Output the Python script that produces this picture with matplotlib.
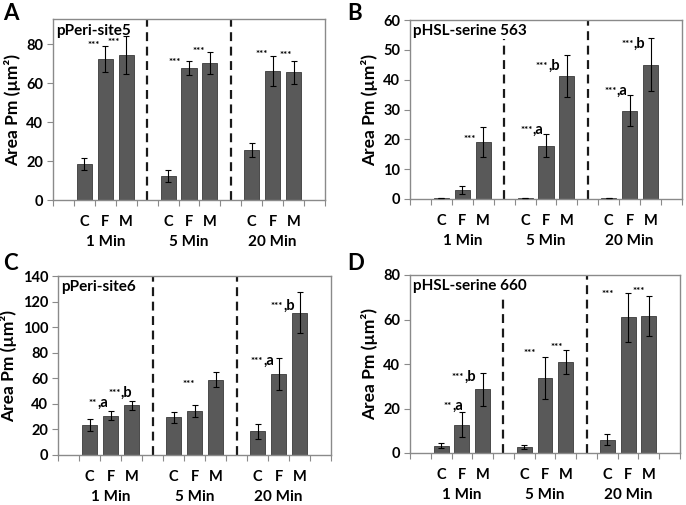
import matplotlib
matplotlib.use("Agg")
import matplotlib.pyplot as plt
import numpy as np

plt.rcParams['font.family'] = ['Lato', 'DejaVu Sans']
plt.rcParams['font.weight'] = 'bold'

categories = ['', 'C', 'F', 'M', '', 'C', 'F', 'M', '', 'C', 'F', 'M', '']
groups = ['1 Min', '5 Min', '20 Min']

A_title = 'pPeri-site5'
A_means = [18.5, 72.3, 74.4, 12.3, 67.7, 70.4, 25.6, 66.3, 65.6]
A_err = [3.0, 6.7, 9.8, 3.2, 3.6, 5.5, 3.5, 7.9, 5.8]
A_ticks = [0, 20, 40, 60, 80]

B_title = 'pHSL-serine 563'
B_means = [0.3, 3.0, 19.2, 0.3, 17.9, 41.2, 0.3, 29.6, 45.0]
B_err = [0, 1.3, 5.0, 0, 3.8, 7.0, 0, 5.2, 8.9]
B_ticks = [0, 10, 20, 30, 40, 50, 60]

C_title = 'pPeri-site6'
C_means = [23.3, 30.7, 38.8, 29.4, 34.3, 58.7, 18.6, 63.2, 111.2]
C_err = [4.5, 3.4, 3.4, 4.0, 4.6, 5.9, 5.7, 12.4, 16.0]
C_ticks = [0, 20, 40, 60, 80, 100, 120, 140]

D_title = 'pHSL-serine 660'
D_means = [3.3, 12.8, 28.6, 2.7, 33.8, 40.9, 6.0, 60.9, 61.4]
D_err = [1.2, 5.6, 7.3, 1.1, 9.4, 5.5, 2.5, 10.8, 9.0]
D_ticks = [0, 20, 40, 60, 80]

# annotations: (bar number, stars, letter, label y level)
A_ann = [(1, '***', '', 80), (2, '***', '', 82), (4, '***', '', 71.5),
         (5, '***', '', 77), (7, '***', '', 75.4), (8, '***', '', 75)]
B_ann = [(2, '***', '', 20.6), (4, '***', 'a', 23.4), (5, '***', 'b', 45),
         (7, '***', 'a', 36.7), (8, '***', 'b', 52.4)]
C_ann = [(1, '**', 'a', 41.7), (2, '***', 'b', 49.6), (5, '***', '', 56.1),
         (7, '***', 'a', 74.5), (8, '***', 'b', 117.7)]
D_ann = [(1, '**', 'a', 21.8), (2, '***', 'b', 34.6), (4, '***', '', 45.6),
         (5, '***', '', 48.1), (7, '***', '', 72.2), (8, '***', '', 73.4)]

W, H = 686, 505
fig = plt.figure(figsize=(W / 100, H / 100), dpi=100)


def px_axes(l, r, t, b):
    return fig.add_axes([l / W, 1 - b / H, (r - l) / W, (b - t) / H])


GRAY = '#8a8a8a'


def panel(ax, letter, title, means, err, ticks, ymax, ann, ann_dx, dash_top):
    x = np.arange(len(categories))
    bar_x = x[np.array([c != '' for c in categories])]
    ax.bar(bar_x, means, width=0.72, color='#595959', edgecolor='#3a3a3a',
           linewidth=0.6, zorder=2)
    ax.errorbar(bar_x, means, yerr=err, fmt='none', ecolor='black',
                elinewidth=0.8, capsize=2, capthick=0.8, zorder=3)
    ax.set_xlim(-0.5, len(categories) - 0.5)
    ax.set_ylim(0, ymax)
    ax.set_yticks(ticks)
    ax.set_yticklabels([str(t) for t in ticks], fontsize=10.5, fontweight='bold')
    ax.set_xticks(bar_x)
    ax.set_xticklabels([categories[i] for i in bar_x], fontsize=10.5,
                       fontweight='bold')
    ax.set_xticks(np.arange(len(categories) + 1) - 0.5, minor=True)
    ax.tick_params(axis='x', which='major', length=0, pad=11)
    ax.tick_params(axis='x', which='minor', length=4, color=GRAY, width=0.8)
    ax.tick_params(axis='y', length=4, color=GRAY, width=0.8, pad=3)
    for s in ax.spines.values():
        s.set_color(GRAY)
        s.set_linewidth(1.0)
    # group labels
    for gi, g in enumerate(groups):
        cx = bar_x[gi * 3 + 1]
        ax.annotate(g, xy=(cx, 0), xycoords=('data', 'axes fraction'),
                    xytext=(0, -25.5), textcoords='offset points',
                    ha='center', va='top', fontsize=11, fontweight='bold')
    # separators
    sep = [i for i, c in enumerate(categories) if c == '' and 0 < i < len(categories) - 1]
    for si, s in enumerate(sep):
        ax.vlines(s, 0, dash_top[si], colors='#1a1a1a', linestyles=(0, (4, 2.5)),
                  linewidth=1.6, zorder=1)
    ax.text(0.012, 0.975, title, transform=ax.transAxes, ha='left', va='top',
            fontsize=11, fontweight='bold')
    ax.set_ylabel('Area Pm (µm²)', fontsize=12.5, fontweight='bold', labelpad=4)
    # annotations
    for (bi, stars, let, y), dx in zip(ann, ann_dx):
        xj = bar_x[bi] + dx
        ax.annotate(stars, xy=(xj, y), xytext=(0, -3), textcoords='offset points',
                    ha='right', va='baseline', fontsize=7, fontweight='bold')
        if let:
            ax.annotate(',' + let, xy=(xj, y), xytext=(0, -3.5),
                        textcoords='offset points', ha='left', va='baseline',
                        fontsize=10.5, fontweight='bold')
    # panel letter
    fig.text(letter[1] / W, 1 - letter[2] / H, letter[0], fontsize=16,
             fontweight='bold', ha='left', va='center')


axA = px_axes(53, 325, 19, 200)
axB = px_axes(410, 682, 20, 199)
axC = px_axes(58, 331, 276, 455)
axD = px_axes(410, 680, 275, 453)

panel(axA, ('A', 3, 13), A_title, A_means, A_err, A_ticks, 93, A_ann,
      [-0.27, -0.31, -0.39, -0.24, -0.21, -0.09], [93, 93])
panel(axB, ('B', 347, 14), B_title, B_means, B_err, B_ticks, 60, B_ann,
      [-0.36, -0.63, -0.9, -0.62, -0.8], [53.6, 60])
panel(axC, ('C', 3, 263), C_title, C_means, C_err, C_ticks, 140, C_ann,
      [-0.63, -0.52, -0.96, -0.74, -0.78], [140, 140])
panel(axD, ('D', 347, 263), D_title, D_means, D_err, D_ticks, 80, D_ann,
      [-0.48, -0.89, -0.43, -0.13, -0.66, -0.2], [70.7, 80])

fig.savefig('out.png', dpi=100)
